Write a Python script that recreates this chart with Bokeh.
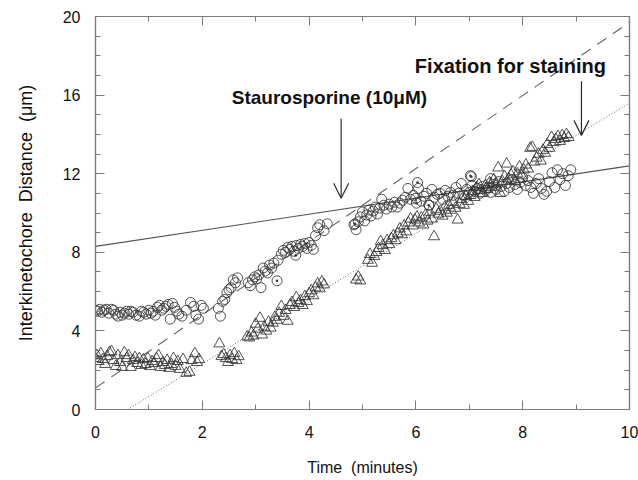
from bokeh.plotting import figure
from bokeh.models import (LinearAxis, Range1d, Arrow, OpenHead, Label, FixedTicker,
                          ColumnDataSource, CustomLabelingPolicy)
from bokeh.embed import file_html
from bokeh.resources import INLINE

# ---------------- data ----------------
x_ticks = [0, 2, 4, 6, 8, 10]
y_ticks = [0, 4, 8, 12, 16, 20]

circ_t = [0.00, 0.04, 0.08, 0.12, 0.16, 0.20, 0.25, 0.30, 0.34, 0.38, 0.42, 0.46, 0.50, 0.54, 0.58,
          0.62, 0.66, 0.70, 0.76, 0.82, 0.86, 0.90, 0.95, 1.00, 1.04, 1.08, 1.12, 1.16, 1.20, 1.24,
          1.28, 1.32, 1.36, 1.40, 1.44, 1.48, 1.52, 1.56, 1.62, 1.70, 1.78, 1.84, 1.88, 1.93, 1.98,
          2.02, 2.30, 2.34, 2.38, 2.42, 2.46, 2.50, 2.54, 2.58, 2.62, 2.66, 2.86, 2.90, 2.94, 2.98,
          3.02, 3.06, 3.10, 3.14, 3.18, 3.22, 3.26, 3.30, 3.34, 3.42, 3.48, 3.52, 3.56, 3.60, 3.64,
          3.68, 3.72, 3.76, 3.80, 3.84, 3.88, 3.92, 3.96, 4.00, 4.04, 4.08, 4.12, 4.16, 4.20, 4.28,
          4.34, 4.84, 4.88, 4.92, 4.96, 5.00, 5.04, 5.08, 5.12, 5.16, 5.20, 5.24, 5.28, 5.32, 5.36,
          5.40, 5.45, 5.50, 5.55, 5.60, 5.65, 5.70, 5.75, 5.80, 5.85, 5.90, 5.95, 6.00, 6.05, 6.10,
          6.15, 6.20, 6.25, 6.30, 6.35, 6.40, 6.45, 6.50, 6.55, 6.60, 6.65, 6.70, 6.75, 6.80, 6.85,
          6.90, 6.95, 7.00, 7.05, 7.10, 7.15, 7.20, 7.25, 7.30, 7.35, 7.40, 7.45, 7.50, 7.55, 7.60,
          7.65, 7.70, 7.75, 7.80, 7.85, 7.90, 7.95, 8.00, 8.05, 8.10, 8.15, 8.20, 8.25, 8.30, 8.35,
          8.40, 8.45, 8.50, 8.55, 8.60, 8.65, 8.70, 8.75, 8.80, 8.85, 8.90]
circ_v = [5.05, 5.00, 5.10, 4.95, 5.05, 5.10, 4.90, 5.10, 5.05, 4.85, 4.75, 4.95, 4.80, 4.90, 5.00,
          4.85, 5.00, 4.95, 4.80, 4.75, 5.00, 4.95, 4.85, 5.05, 4.90, 5.00, 4.80, 5.20, 5.30, 5.05,
          5.15, 5.25, 5.35, 4.60, 5.40, 5.20, 5.00, 4.85, 4.75, 5.05, 5.45, 5.25, 4.80, 4.60, 5.30,
          5.15, 5.15, 4.75, 5.50, 5.60, 5.95, 6.10, 6.20, 6.60, 6.45, 6.70, 6.45, 6.30, 6.60, 6.75,
          6.65, 6.85, 6.20, 7.20, 7.05, 6.95, 7.35, 7.20, 7.45, 7.60, 7.90, 8.10, 8.00, 8.25, 8.15,
          8.30, 8.05, 8.35, 8.20, 8.40, 8.30, 8.45, 8.20, 8.50, 8.35, 8.15, 8.85, 9.25, 9.40, 9.10,
          9.45, 9.40, 9.15, 9.55, 9.80, 10.05, 9.60, 9.90, 10.15, 9.85, 10.10, 10.30, 9.95, 10.25, 10.70,
          10.40, 10.20, 10.45, 10.30, 10.55, 10.30, 10.50, 10.65, 10.80, 11.25, 10.70, 10.90, 10.75, 11.25, 10.60,
          10.85, 11.00, 10.40, 11.20, 10.80, 10.95, 11.00, 10.70, 11.15, 10.85, 11.05, 10.90, 11.30, 11.00, 11.50,
          10.90, 11.20, 11.05, 11.40, 11.10, 11.25, 11.00, 11.35, 11.15, 11.30, 11.05, 11.45, 11.20, 11.60, 11.35,
          11.10, 11.50, 11.30, 11.70, 11.45, 11.20, 11.55, 11.80, 11.40, 11.65, 11.30, 11.00, 11.50, 11.75, 11.25,
          10.95, 11.10, 11.60, 12.05, 11.30, 12.20, 11.70, 12.00, 11.40, 11.90, 12.20]

dot_t = [3.40, 3.75, 4.86, 6.01, 6.03, 6.24, 7.02, 7.04, 7.40]
dot_v = [6.55, 7.85, 9.45, 10.50, 11.55, 10.40, 11.90, 11.85, 11.75]

tri_t = [0.00, 0.03, 0.06, 0.10, 0.14, 0.18, 0.22, 0.26, 0.30, 0.34, 0.38, 0.42, 0.46, 0.50, 0.54,
         0.58, 0.62, 0.66, 0.70, 0.74, 0.78, 0.82, 0.86, 0.90, 0.94, 0.98, 1.02, 1.06, 1.10, 1.14,
         1.18, 1.22, 1.26, 1.30, 1.34, 1.38, 1.42, 1.46, 1.50, 1.54, 1.58, 1.64, 1.70, 1.76, 1.80,
         1.86, 1.90, 1.94, 2.32, 2.36, 2.40, 2.44, 2.48, 2.52, 2.56, 2.60, 2.64, 2.68, 2.84, 2.88,
         2.92, 2.96, 3.00, 3.04, 3.08, 3.12, 3.16, 3.20, 3.24, 3.28, 3.32, 3.36, 3.40, 3.44, 3.48,
         3.52, 3.56, 3.60, 3.64, 3.68, 3.72, 3.76, 3.80, 3.84, 3.88, 3.92, 3.96, 4.00, 4.04, 4.08,
         4.12, 4.16, 4.20, 4.24, 4.28, 4.88, 4.92, 4.96, 5.10, 5.14, 5.18, 5.22, 5.26, 5.30, 5.34,
         5.38, 5.42, 5.46, 5.50, 5.54, 5.58, 5.62, 5.66, 5.70, 5.74, 5.78, 5.82, 5.86, 5.90, 5.94,
         5.98, 6.02, 6.06, 6.10, 6.14, 6.18, 6.22, 6.26, 6.30, 6.34, 6.38, 6.42, 6.46, 6.50, 6.54,
         6.58, 6.62, 6.66, 6.70, 6.74, 6.78, 6.82, 6.86, 6.90, 6.94, 6.98, 7.02, 7.06, 7.10, 7.14,
         7.18, 7.22, 7.26, 7.30, 7.34, 7.38, 7.42, 7.46, 7.50, 7.54, 7.58, 7.62, 7.66, 7.70, 7.74,
         7.78, 7.82, 7.86, 7.90, 7.94, 7.98, 8.02, 8.06, 8.10, 8.14, 8.18, 8.22, 8.26, 8.30, 8.34,
         8.38, 8.42, 8.46, 8.50, 8.54, 8.58, 8.62, 8.66, 8.70, 8.74, 8.78, 8.82, 8.86]
tri_v = [2.60, 2.75, 2.45, 2.85, 2.55, 2.30, 2.70, 2.90, 2.95, 2.50, 2.20, 2.75, 2.40, 2.15, 2.90,
         2.60, 2.75, 2.15, 2.50, 2.65, 2.35, 2.60, 2.25, 2.55, 2.30, 2.60, 2.20, 2.45, 2.35, 2.60,
         2.75, 2.15, 2.40, 2.25, 2.50, 2.10, 2.30, 2.60, 2.20, 2.45, 2.05, 2.55, 1.85, 1.90, 2.50,
         2.85, 2.40, 2.55, 3.35, 2.70, 2.80, 2.60, 2.40, 2.75, 2.55, 2.85, 2.50, 2.70, 3.70, 3.65,
         3.90, 3.75, 4.35, 4.10, 4.65, 3.80, 4.20, 4.00, 4.45, 4.15, 4.40, 4.70, 4.55, 4.90, 5.25,
         4.75, 5.05, 4.50, 5.30, 5.45, 5.20, 5.70, 5.40, 5.55, 5.30, 5.75, 5.50, 5.90, 6.05, 5.80,
         6.20, 6.40, 6.15, 6.50, 6.35, 6.60, 6.75, 6.55, 7.60, 7.90, 7.45, 7.80, 8.00, 8.20, 8.55,
         8.35, 8.10, 8.60, 8.40, 8.70, 8.85, 8.60, 8.95, 9.20, 8.90, 9.35, 9.05, 9.50, 9.70, 9.35,
         9.65, 9.80, 9.50, 9.75, 9.40, 9.90, 9.60, 10.05, 9.70, 8.80, 10.20, 9.95, 10.10, 9.85, 10.30,
         10.00, 10.40, 10.15, 10.55, 10.25, 9.65, 10.45, 10.70, 10.40, 10.85, 10.60, 10.90, 11.10, 10.80, 11.30,
         11.45, 11.15, 11.00, 11.40, 11.20, 11.55, 11.30, 11.70, 11.45, 12.30, 11.00, 11.60, 11.85, 12.50, 11.75,
         11.95, 12.10, 11.60, 12.00, 12.35, 11.90, 12.20, 12.45, 12.25, 13.30, 13.35, 12.60, 12.80, 13.00, 12.65,
         13.20, 13.05, 13.50, 13.30, 13.85, 13.60, 13.75, 13.90, 13.65, 13.95, 13.80, 14.00, 13.85]

# fitted lines (end points)
fit_x = [0.0, 10.0]
solid_fit_y = [8.3, 12.4]
dashed_fit_y = [1.1, 19.7]
dotted_fit_x = [0.6, 10.0]
dotted_fit_y = [0.0, 15.6]

# annotations
note_text = ["Staurosporine (10\u03bcM)", "Fixation for staining"]
note_x = [4.38, 7.77]
note_y = [15.9, 17.5]
note_size = ["19px", "20px"]
arrow_x = [4.6, 9.1]
arrow_y0 = [14.8, 16.7]
arrow_y1 = [10.75, 13.95]

# ---------------- figure ----------------
FONT = "Liberation Sans"
ink = "#2a2a2a"
axc = "#7a7a7a"

p = figure(width=638, height=480, x_range=Range1d(0, 10), y_range=Range1d(0, 20),
           output_backend="svg", toolbar_location=None,
           x_axis_location=None, y_axis_location=None)
p.min_border_left = 95
p.min_border_right = 9
p.min_border_top = 16
p.min_border_bottom = 71
p.xgrid.visible = False
p.ygrid.visible = False
p.outline_line_color = axc
p.outline_line_width = 1.2
p.background_fill_color = "white"
p.border_fill_color = "white"

no_labels = CustomLabelingPolicy(code="""
const n = indices.size
for (let i = 0; i < n; i++) { indices.unset(i) }
return indices
""")


def style_axis(ax, labels=True):
    ax.axis_line_color = axc
    ax.axis_line_width = 1.2
    ax.major_tick_line_color = axc
    ax.minor_tick_line_color = axc
    ax.major_tick_in = 9
    ax.major_tick_out = 0
    ax.minor_tick_in = 5
    ax.minor_tick_out = 0
    ax.major_label_text_font = FONT
    ax.major_label_text_color = "#111111"
    ax.axis_label_text_font = FONT
    ax.axis_label_text_font_style = "normal"
    ax.axis_label_text_color = "#111111"
    if labels:
        ax.major_label_text_font_size = "16px"
    else:
        ax.major_label_text_font_size = "1px"
        ax.major_label_standoff = 0
        ax.major_label_policy = no_labels


xt = FixedTicker(ticks=x_ticks, minor_ticks=list(range(0, 11)))
yt = FixedTicker(ticks=y_ticks, minor_ticks=list(range(0, 21)))

xb = LinearAxis(ticker=xt, axis_label="Time\u00a0 (minutes)")
style_axis(xb)
xb.axis_label_text_font_size = "16px"
xb.major_label_standoff = 16
xb.axis_label_standoff = 18
p.add_layout(xb, "below")

yl = LinearAxis(ticker=yt, axis_label="Interkinetochore\u00a0 Distance\u00a0 (\u03bcm)")
style_axis(yl)
yl.axis_label_text_font_size = "18px"
yl.major_label_standoff = 15
yl.axis_label_standoff = 24
p.add_layout(yl, "left")

xtop = LinearAxis(ticker=FixedTicker(ticks=x_ticks, minor_ticks=list(range(0, 11))))
style_axis(xtop, labels=False)
p.add_layout(xtop, "above")

yr = LinearAxis(ticker=FixedTicker(ticks=y_ticks, minor_ticks=list(range(0, 21))))
style_axis(yr, labels=False)
p.add_layout(yr, "right")

# fit lines
p.line(fit_x, solid_fit_y, line_color="#555555", line_width=1.1)
p.line(fit_x, dashed_fit_y, line_color="#666666", line_width=1.1, line_dash="11 8")
p.line(dotted_fit_x, dotted_fit_y, line_color="#666666", line_width=1.0, line_dash="1 2")

# scatter
csrc = ColumnDataSource(dict(t=circ_t, v=circ_v))
tsrc = ColumnDataSource(dict(t=tri_t, v=tri_v))
dsrc = ColumnDataSource(dict(t=dot_t, v=dot_v))
p.scatter("t", "v", source=csrc, marker="circle", size=10, fill_color=None,
          line_color="#333333", line_width=0.85)
p.scatter("t", "v", source=dsrc, marker="circle_dot", size=10, fill_color=None,
          line_color="#333333", line_width=0.85)
p.scatter("t", "v", source=tsrc, marker="triangle", size=11, fill_color=None,
          line_color="#333333", line_width=0.85)

# annotations
for txt, tx, ty, fs in zip(note_text, note_x, note_y, note_size):
    p.add_layout(Label(x=tx, y=ty, text=txt, text_align="center", text_baseline="middle",
                       text_font=FONT, text_font_style="bold", text_font_size=fs,
                       text_color="#111111"))
for ax_, a0, a1 in zip(arrow_x, arrow_y0, arrow_y1):
    p.add_layout(Arrow(x_start=ax_, y_start=a0, x_end=ax_, y_end=a1,
                       line_color=ink, line_width=1.2,
                       end=OpenHead(size=15, line_color=ink, line_width=1.2)))

open("out.html", "w").write(file_html(p, INLINE))
